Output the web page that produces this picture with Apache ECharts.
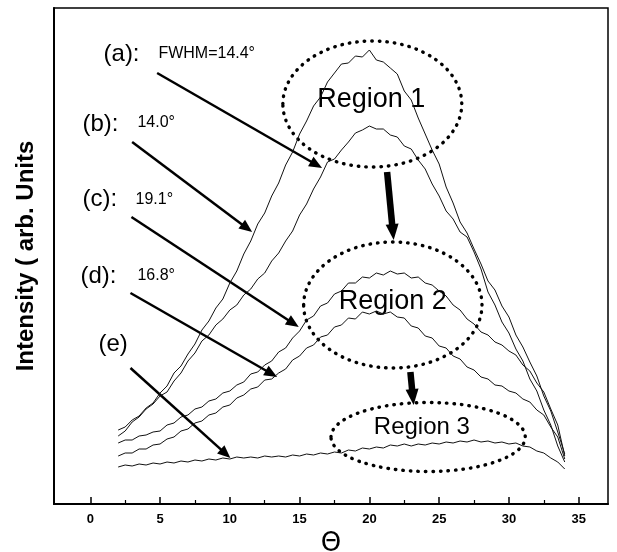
<!DOCTYPE html>
<html>
<head>
<meta charset="utf-8">
<script src="https://cdn.jsdelivr.net/npm/echarts@6/dist/echarts.min.js"></script>
<style>
  html, body { margin: 0; padding: 0; background: #fff; }
  #chart { width: 617px; height: 552px; }
</style>
</head>
<body>
<div id="chart"></div>
<script>
// Scattering angle samples (degrees)
const theta = [2,2.5,3,3.5,4,4.5,5,5.5,6,6.5,7,7.5,8,8.5,9,9.5,10,10.5,11,11.5,12,12.5,13,13.5,14,14.5,15,15.5,16,16.5,17,17.5,18,18.5,19,19.5,20,20.5,21,21.5,22,22.5,23,23.5,24,24.5,25,25.5,26,26.5,27,27.5,28,28.5,29,29.5,30,30.5,31,31.5,32,32.5,33,33.5,34];

// Intensity traces (arb. units)
const curveA = [74,77,84,88,96,101,111,118,131,138,150,160,174,183,196,205,221,233,250,263,280,291,308,321,339,352,370,383,398,407,422,431,440,441,448,447,454,444,442,436,430,413,404,386,370,354,340,317,301,282,271,255,240,223,214,198,187,169,157,142,128,108,93,72,50];
const curveB = [68,73,82,87,95,100,108,112,123,131,143,151,163,169,179,185,194,199,209,215,225,231,243,251,263,273,289,300,315,327,342,345,354,362,371,374,378,375,375,369,367,358,355,344,335,320,308,293,285,272,267,252,235,212,199,182,171,155,143,125,113,94,79,58,42];
const curveC = [61,64,64,68,69,72,73,79,81,87,89,95,97,103,105,111,113,119,122,130,132,139,143,152,156,166,173,184,188,198,201,210,213,221,221,227,226,231,229,233,230,231,226,227,221,219,213,208,199,194,185,180,172,169,162,159,153,149,139,133,121,112,95,79,48];
const curveD = [48,51,51,55,55,59,60,65,67,73,75,81,83,89,91,97,99,106,109,115,117,124,125,131,135,144,148,156,159,167,169,177,179,186,185,192,190,193,190,192,187,186,178,176,168,166,158,156,148,145,137,134,127,125,119,118,113,111,105,102,94,89,77,67,45];
const curveE = [37,39,38,40,39,41,40,42,41,43,42,44,43,45,44,46,45,47,46,47,46,48,47,48,47,49,48,50,49,51,50,52,51,54,53,56,55,57,56,59,58,60,58,60,59,61,60,62,61,63,62,64,62,63,61,62,60,61,58,57,53,51,46,42,35];

// Axis ticks
const majorTicks = [0,5,10,15,20,25,30,35];
const minorTicks = [2.5,7.5,12.5,17.5,22.5,27.5,32.5];

// Curve labels: [text, theta, intensity]
const curveLabels = [
  ['(a):', 0.95, 450], ['(b):', -0.56, 380], ['(c):', -0.56, 305], ['(d):', -0.7, 228], ['(e)', 0.59, 160]
];
const fwhmLabels = [
  ['FWHM=14.4°', 4.88, 450], ['14.0°', 3.38, 381], ['19.1°', 3.24, 304], ['16.8°', 3.38, 228]
];
// Pointer arrows: [from theta, from intensity, to theta, to intensity]
const pointers = [
  [4.79, 431, 16.61, 336],
  [3.0, 362, 11.6, 272],
  [2.95, 287, 14.94, 177],
  [2.88, 211, 13.39, 127],
  [2.88, 136, 10.04, 46]
];
// Region transitions
const transitions = [
  [21.27, 332, 21.74, 264],
  [22.94, 132, 23.17, 99]
];
// Regions: [name, centre theta, centre intensity, half-width (deg), half-height, label theta, label intensity, font size]
const regions = [
  ['Region 1', 20.21, 400, 6.41, 63, 20.14, 404, 27],
  ['Region 2', 21.68, 199, 6.39, 63, 21.68, 202, 27],
  ['Region 3', 24.21, 67, 6.96, 34.5, 23.76, 77, 24]
];

const FONT = 'Liberation Sans, Arial, sans-serif';
const chart = echarts.init(document.getElementById('chart'), null, { renderer: 'canvas' });

function mkSeries(vals) {
  return {
    type: 'line', xAxisIndex: 0, showSymbol: false, silent: true, animation: false,
    lineStyle: { color: '#111', width: 1 },
    data: theta.map((t, i) => [t, vals[i]])
  };
}

chart.setOption({
  animation: false,
  backgroundColor: '#fff',
  grid: { left: 54, right: 9, top: 8, bottom: 48, outerBoundsMode: 'none', containLabel: false,
          show: true, borderColor: '#000', borderWidth: 1.5 },
  xAxis: [{
    type: 'value', min: -2.6, max: 37.1, position: 'bottom',
    splitLine: { show: false },
    axisLine: { onZero: false, lineStyle: { color: '#000', width: 2 } },
    axisTick: { inside: true, length: 7, customValues: majorTicks, lineStyle: { color: '#000', width: 1.5 } },
    axisLabel: { customValues: majorTicks, margin: 9, color: '#000', fontFamily: FONT, fontSize: 13, fontWeight: 'bold' },
    name: 'Θ', nameLocation: 'middle', nameGap: 27,
    nameTextStyle: { fontFamily: 'DejaVu Sans, sans-serif', fontSize: 26, color: '#000' }
  }, {
    type: 'value', min: -2.6, max: 37.1, position: 'bottom',
    splitLine: { show: false }, axisLine: { show: false, onZero: false }, axisLabel: { show: false },
    axisTick: { inside: true, length: 4, customValues: minorTicks, lineStyle: { color: '#000', width: 1.2 } }
  }],
  yAxis: {
    type: 'value', min: 0, max: 496,
    splitLine: { show: false },
    axisLine: { show: true, onZero: false, lineStyle: { color: '#000', width: 2 } },
    axisTick: { show: false }, axisLabel: { show: false },
    name: 'Intensity ( arb. Units', nameLocation: 'middle', nameRotate: 90, nameGap: 16,
    nameTextStyle: { fontFamily: FONT, fontSize: 24, fontWeight: 'bold', color: '#000' }
  },
  series: [curveA, curveB, curveC, curveD, curveE].map(mkSeries)
});

function px(t, v) { return chart.convertToPixel({ gridIndex: 0 }, [t, v]); }

function arrowShapes(p1, p2, width, headLen, headW) {
  const dx = p2[0] - p1[0], dy = p2[1] - p1[1];
  const len = Math.hypot(dx, dy);
  const ux = dx / len, uy = dy / len, nx = -uy, ny = ux;
  const bx = p2[0] - ux * headLen, by = p2[1] - uy * headLen;
  return [
    { type: 'line', silent: true, shape: { x1: p1[0], y1: p1[1], x2: bx + ux * 2, y2: by + uy * 2 },
      style: { stroke: '#000', lineWidth: width, lineCap: 'butt' } },
    { type: 'polygon', silent: true,
      shape: { points: [[p2[0], p2[1]], [bx + nx * headW / 2, by + ny * headW / 2], [bx - nx * headW / 2, by - ny * headW / 2]] },
      style: { fill: '#000' } }
  ];
}

const g = [];
regions.forEach(r => {
  const c = px(r[1], r[2]);
  const e = px(r[1] + r[3], r[2] + r[4]);
  g.push({ type: 'ellipse', silent: true,
    shape: { cx: c[0], cy: c[1], rx: Math.abs(e[0] - c[0]), ry: Math.abs(e[1] - c[1]) },
    style: { fill: null, stroke: '#000', lineWidth: 3.4, lineDash: [0.5, 7], lineCap: 'round' } });
  const l = px(r[5], r[6]);
  g.push({ type: 'text', silent: true, x: l[0], y: l[1],
    style: { text: r[0], fontFamily: FONT, fontSize: r[7], fill: '#000', align: 'center', verticalAlign: 'middle' } });
});
curveLabels.forEach(c => {
  const p = px(c[1], c[2]);
  g.push({ type: 'text', silent: true, x: p[0], y: p[1],
    style: { text: c[0], fontFamily: FONT, fontSize: 24, fill: '#000', align: 'left', verticalAlign: 'middle' } });
});
fwhmLabels.forEach(c => {
  const p = px(c[1], c[2]);
  g.push({ type: 'text', silent: true, x: p[0], y: p[1],
    style: { text: c[0], fontFamily: FONT, fontSize: 16, fill: '#000', align: 'left', verticalAlign: 'middle' } });
});
pointers.forEach(a => {
  g.push(...arrowShapes(px(a[0], a[1]), px(a[2], a[3]), 2.5, 13, 11));
});
transitions.forEach(a => {
  g.push(...arrowShapes(px(a[0], a[1]), px(a[2], a[3]), 6.5, 16, 13));
});
chart.setOption({ graphic: { elements: g } });
</script>
</body>
</html>
